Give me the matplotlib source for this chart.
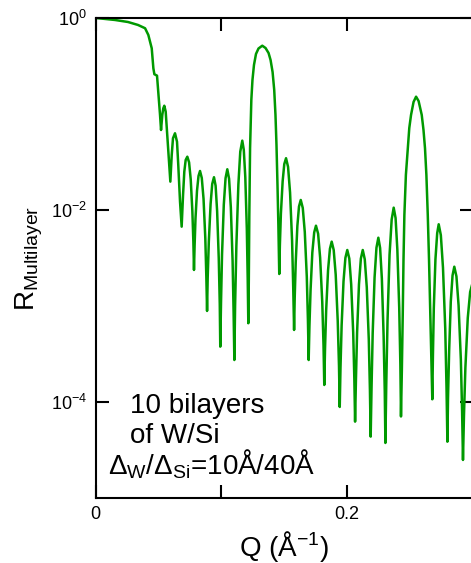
import numpy as np
import matplotlib
matplotlib.use('Agg')
import matplotlib.pyplot as plt

## reflectivity of a 10 bilayer W/Si multilayer
## q in 1/Angstrom, log10_r is log10 of the reflectivity
q = [
    # total reflection edge
    0.0, 0.0076, 0.0155, 0.0258, 0.0338, 0.0394, 0.0420, 0.0447, 0.0460, 0.0468, 0.0489, 0.0499, 0.0513,
    # first fringes
    0.0521, 0.0531, 0.0539, 0.0547, 0.0558, 0.0574, 0.0584, 0.0595, 0.0606, 0.0616,
    0.0632, 0.0648, 0.0658, 0.0672, 0.0685, 0.0696, 0.0706, 0.0717, 0.0730,
    0.0744, 0.0757, 0.0770, 0.0778, 0.0783, 0.0788, 0.0795, 0.0807, 0.0819, 0.0831,
    0.0845, 0.0859, 0.0873, 0.0881, 0.0887, 0.0892, 0.0901, 0.0915, 0.0928, 0.0942,
    0.0955, 0.0967, 0.0980, 0.0988, 0.0992, 0.0998, 0.1006, 0.1020, 0.1034, 0.1048,
    0.1062, 0.1076, 0.1090, 0.1098, 0.1104, 0.1110, 0.1120, 0.1136, 0.1151, 0.1167,
    0.1179, 0.1191, 0.1203, 0.1210, 0.1215,
    # first Bragg peak
    0.1219, 0.1223, 0.1229, 0.1239, 0.1248, 0.1260, 0.1276, 0.1296, 0.1326,
    0.1352, 0.1376, 0.1392, 0.1408, 0.1421, 0.1431, 0.1439, 0.1447, 0.1454, 0.1461,
    # Kiessig fringes between the Bragg peaks
    0.1466, 0.1474, 0.1488, 0.1501, 0.1515, 0.1531, 0.1547, 0.1563, 0.1572, 0.1579,
    0.1584, 0.1592, 0.1605, 0.1618, 0.1632, 0.1648, 0.1664, 0.1680, 0.1689, 0.1695,
    0.1701, 0.1710, 0.1724, 0.1739, 0.1753, 0.1770, 0.1786, 0.1803, 0.1813, 0.1819,
    0.1825, 0.1834, 0.1849, 0.1864, 0.1878, 0.1894, 0.1910, 0.1926, 0.1936, 0.1942,
    0.1948, 0.1957, 0.1972, 0.1987, 0.2002, 0.2018, 0.2033, 0.2049, 0.2058, 0.2064,
    0.2071, 0.2080, 0.2095, 0.2110, 0.2125, 0.2141, 0.2157, 0.2173, 0.2182, 0.2188,
    0.2195, 0.2204, 0.2219, 0.2234, 0.2249, 0.2263, 0.2277, 0.2291, 0.2300, 0.2305,
    0.2312, 0.2322, 0.2338, 0.2355, 0.2371, 0.2386, 0.2400, 0.2415, 0.2424, 0.2429,
    # second Bragg peak
    0.2436, 0.2443, 0.2449, 0.2456, 0.2468, 0.2483, 0.2495, 0.2509, 0.2529, 0.2549,
    0.2569, 0.2594, 0.2608, 0.2620, 0.2631, 0.2642, 0.2652, 0.2662, 0.2670, 0.2678,
    # fringes after
    0.2683, 0.2690, 0.2703, 0.2717, 0.2729, 0.2746, 0.2763, 0.2781, 0.2791, 0.2798,
    0.2803, 0.2812, 0.2825, 0.2839, 0.2853, 0.2870, 0.2887, 0.2905, 0.2915, 0.2922,
    0.2930, 0.2941, 0.2960, 0.2979, 0.2998,
]
log10_r = [
    0.0, -0.010, -0.021, -0.042, -0.073, -0.107, -0.177, -0.316, -0.524, -0.586, -0.601, -0.768, -1.010,
    -1.167, -1.010, -0.941, -0.914, -0.976, -1.289, -1.497, -1.705, -1.427, -1.253,
    -1.201, -1.289, -1.531, -1.914, -2.174, -1.844, -1.601, -1.479, -1.445,
    -1.504, -1.681, -2.011, -2.330, -2.625, -2.368, -2.089, -1.800, -1.646, -1.594,
    -1.667, -1.885, -2.294, -2.688, -3.052, -2.704, -2.328, -1.938, -1.729, -1.659,
    -1.748, -2.013, -2.506, -2.983, -3.424, -2.963, -2.464, -1.946, -1.669, -1.576,
    -1.675, -1.973, -2.529, -3.066, -3.563, -2.992, -2.375, -1.735, -1.393, -1.278,
    -1.373, -1.658, -2.191, -2.704, -3.180,
    -2.729, -2.052, -1.354, -0.854, -0.646, -0.490, -0.375, -0.318, -0.289,
    -0.313, -0.365, -0.438, -0.563, -0.750, -1.010, -1.323, -1.740, -2.156, -2.667,
    -2.366, -2.040, -1.702, -1.522, -1.461, -1.551, -1.819, -2.320, -2.803, -3.250,
    -2.911, -2.546, -2.167, -1.964, -1.896, -1.979, -2.229, -2.696, -3.146, -3.563,
    -3.213, -2.835, -2.444, -2.233, -2.164, -2.247, -2.496, -2.960, -3.408, -3.823,
    -3.450, -3.047, -2.629, -2.405, -2.330, -2.417, -2.675, -3.156, -3.622, -4.052,
    -3.644, -3.202, -2.744, -2.499, -2.417, -2.506, -2.774, -3.275, -3.758, -4.205,
    -3.758, -3.275, -2.774, -2.506, -2.417, -2.514, -2.805, -3.350, -3.875, -4.361,
    -3.844, -3.283, -2.703, -2.393, -2.289, -2.396, -2.717, -3.315, -3.893, -4.427,
    -3.815, -3.152, -2.467, -2.099, -1.976, -2.084, -2.411, -3.020, -3.607, -4.151,
    -3.667, -3.094, -2.521, -2.052, -1.635, -1.357, -1.146, -1.010, -0.875, -0.820,
    -0.865, -1.010, -1.167, -1.357, -1.635, -2.052, -2.521, -3.094, -3.563, -3.972,
    -3.517, -3.024, -2.514, -2.241, -2.149, -2.263, -2.602, -3.236, -3.848, -4.414,
    -3.958, -3.466, -2.955, -2.682, -2.591, -2.692, -2.994, -3.557, -4.101, -4.604,
    -4.135, -3.646, -3.125, -2.854, -2.760,
]
y_ticks = [1e0, 1e-2, 1e-4]
x_ticks = [0.0, 0.1, 0.2, 0.3]
x_ticklabels = ['0', '', '0.2', '']

plt.rcParams['font.family'] = 'Liberation Sans'
plt.rcParams['mathtext.fontset'] = 'custom'
plt.rcParams['mathtext.rm'] = 'Liberation Sans'
plt.rcParams['mathtext.it'] = 'Liberation Sans:italic'
plt.rcParams['mathtext.bf'] = 'Liberation Sans:bold'

fig = plt.figure(figsize=(4.71, 5.63), dpi=100)
ax = fig.add_axes([0.2028, 0.1155, 0.8010, 0.8526])

r = 10.0 ** np.array(log10_r)
ax.plot(q, r, color='#009900', lw=1.8, solid_joinstyle='round')

ax.set_yscale('log')
ax.set_xlim(0, 0.3)
ax.set_ylim(1e-5, 1)
ax.set_yticks(y_ticks)
ax.minorticks_off()
ax.set_xticks(x_ticks)
ax.set_xticklabels(x_ticklabels)
ax.tick_params(direction='in', length=9.5, width=1.5, top=True, right=True,
               labelsize=13, pad=6)
for s in ax.spines.values():
    s.set_linewidth(1.5)

ax.set_xlabel('Q (Å$^{-1}$)', fontsize=20)
ax.xaxis.set_label_coords(0.5, -0.065)
ax.set_ylabel('R$_{\\rm Multilayer}$', fontsize=20)
ax.yaxis.set_label_coords(-0.135, 0.5)

ax.text(0.0915, 0.1765, '10 bilayers', fontsize=20, va='baseline', transform=ax.transAxes)
ax.text(0.0915, 0.115, 'of W/Si', fontsize=20, va='baseline', transform=ax.transAxes)
ax.text(0.0331, 0.0494, 'Δ$_{\\rm W}$/Δ$_{\\rm Si}$=10Å/40Å', fontsize=20,
        va='baseline', transform=ax.transAxes)

plt.savefig('out.png', dpi=100)
